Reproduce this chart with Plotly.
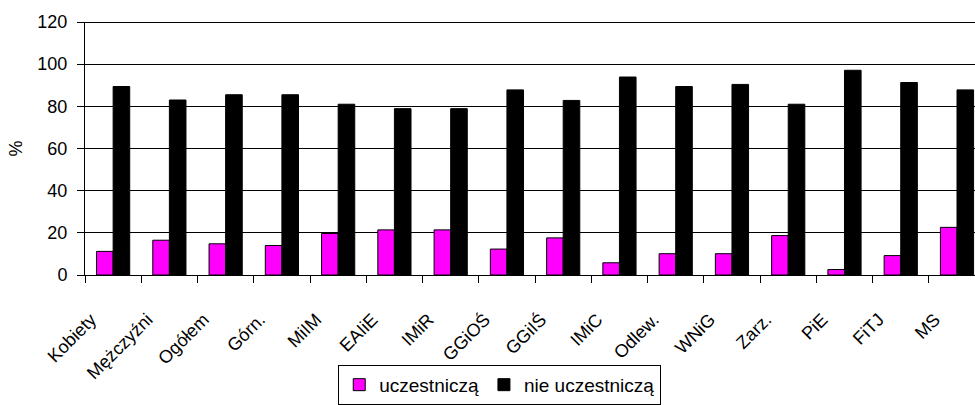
import plotly.graph_objects as go

categories = ["Kobiety", "Mężczyźni", "Ogółem", "Górn.", "MiIM", "EAIiE", "IMiR", "GGiOŚ",
              "GGiIŚ", "IMiC", "Odlew.", "WNiG", "Zarz.", "PiE", "FiTJ", "MS"]
uczestnicza = [11.2, 16.5, 14.8, 14.0, 19.7, 21.4, 21.4, 12.3, 17.6, 5.8, 10.1, 10.1, 18.7, 2.6, 9.2, 22.6]
nie_uczestnicza = [89.4, 83.0, 85.5, 85.5, 81.0, 78.9, 78.9, 87.8, 82.8, 93.9, 89.4, 90.4, 81.0, 97.1, 91.3, 87.8]
y_ticks = [0, 20, 40, 60, 80, 100, 120]

FONT = "Liberation Sans, Arial, sans-serif"

fig = go.Figure()
fig.add_trace(go.Bar(x=categories, y=uczestnicza, name="uczestniczą",
                     marker=dict(color="#FF00FF", line=dict(color="black", width=1))))
fig.add_trace(go.Bar(x=categories, y=nie_uczestnicza, name="nie uczestniczą",
                     marker=dict(color="black", line=dict(color="black", width=1))))

fig.update_layout(
    width=975, height=405,
    margin=dict(l=85, r=0, t=22, b=127),
    paper_bgcolor="white", plot_bgcolor="white",
    font=dict(family=FONT, size=18, color="black"),
    barmode="group", bargap=0.41, bargroupgap=0,
    showlegend=True,
    legend=dict(orientation="h", x=0.466, xanchor="center", y=-0.355, yanchor="top",
                bgcolor="white", bordercolor="black", borderwidth=1,
                font=dict(size=19), itemwidth=30, tracegroupgap=0),
    xaxis=dict(type="category", range=[-0.5, 15.32], tickson="boundaries",
               ticks="outside", ticklen=7, tickcolor="black", tickwidth=1, tickangle=-45,
               ticklabelstandoff=26, ticklabelshift=-22,
               showline=True, linecolor="black", linewidth=1,
               showgrid=False, zeroline=False, automargin=False),
    yaxis=dict(range=[0, 120], tickvals=y_ticks, ticks="outside", ticklen=7,
               tickcolor="black", showline=True, linecolor="black", linewidth=1,
               showgrid=True, gridcolor="black", gridwidth=1, zeroline=False,
               ticklabelstandoff=6, automargin=False,
               title=dict(text="%", standoff=10, font=dict(size=18))),
    shapes=[dict(type="line", xref="paper", yref="y", x0=0, x1=1, y0=120, y1=120,
                 line=dict(color="black", width=2))],
)

fig.write_html("out.html", config={"displayModeBar": False},
               post_script="document.body.style.margin='0';document.body.style.padding='0';"
                           "document.body.style.overflow='hidden';")
